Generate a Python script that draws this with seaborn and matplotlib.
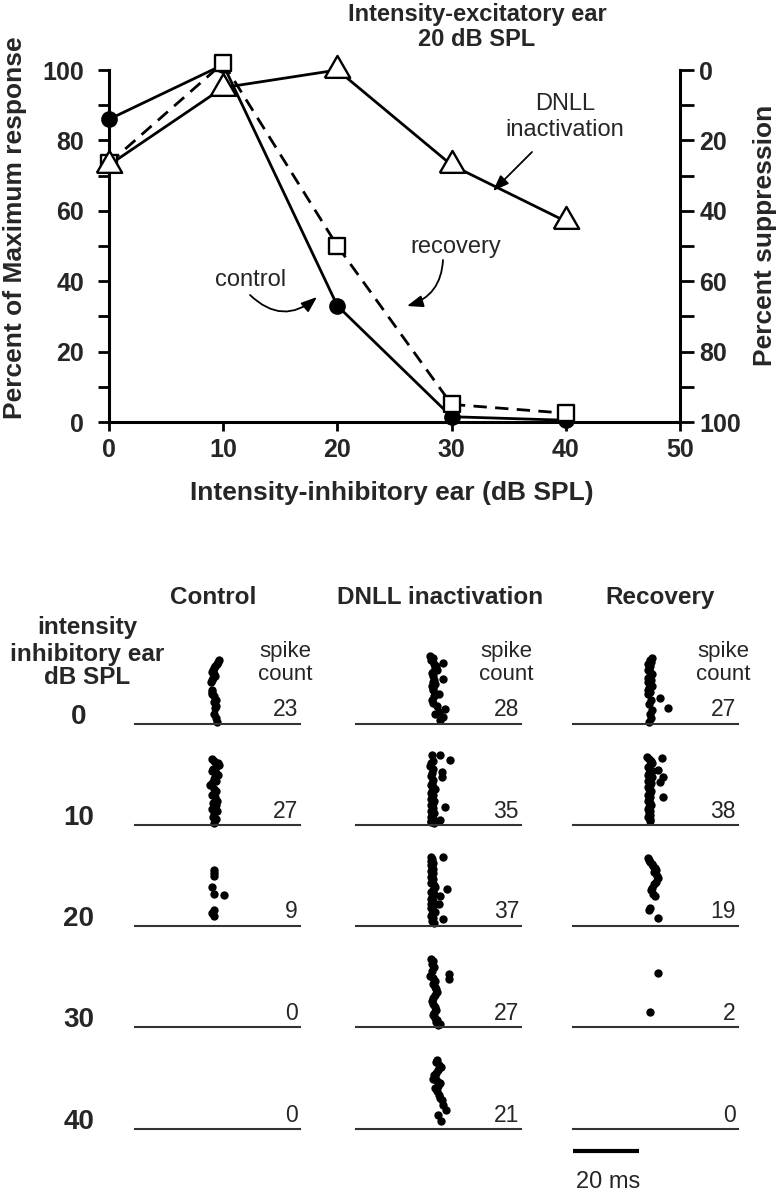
import matplotlib
matplotlib.use("Agg")
import matplotlib.pyplot as plt
import seaborn as sns

# ---------------- data: top panel ----------------
inhib_db = [0, 10, 20, 30, 40]
control_pct = [86, 101.5, 33, 1.5, 0.5]
dnll_pct = [73, 95, 100, 73, 57]
recovery_pct = [73.5, 102, 50, 5, 2.5]

x_ticks = [0, 10, 20, 30, 40, 50]
left_ticks = [0, 20, 40, 60, 80, 100]
right_ticks = [0, 20, 40, 60, 80, 100]
minor_ticks = [10, 30, 50, 70, 90]

# ---------------- data: rasters (time ms, trial) ----------------
conditions = ["Control", "DNLL inactivation", "Recovery"]
row_levels = ["0", "10", "20", "30", "40"]
control_counts = [23, 27, 9, 0, 0]
dnll_counts = [28, 35, 37, 27, 21]
recovery_counts = [27, 38, 19, 2, 0]

ctrl0_trial = [32, 31, 30, 29, 28, 27, 26, 25, 24, 23, 22, 21, 17, 16, 15, 14, 12, 11, 9, 8, 5, 3, 1]
ctrl0_time = [25.6, 25.2, 24.8, 24.2, 23.8, 23.6, 23.4, 23.8, 24.2, 23.6, 23.2, 22.9, 23.4, 23.2, 23.4,
              23.8, 24.4, 24.0, 24.6, 24.2, 24.0, 24.4, 24.8]
ctrl10_trial = [33, 32, 31, 30, 29, 28, 27, 26, 25, 24, 23, 22, 21, 20, 18, 17, 15, 14, 12, 11, 10, 8, 7,
                6, 4, 3, 1]
ctrl10_time = [23.2, 24.0, 25.3, 25.6, 24.6, 23.6, 23.2, 24.4, 25.0, 24.2, 23.8, 24.6, 23.4, 22.8, 24.0,
               24.6, 23.4, 24.2, 24.8, 23.6, 24.4, 23.4, 24.8, 24.0, 23.6, 24.6, 23.8]
ctrl20_trial = [28, 26.5, 25, 19.5, 16, 15.5, 8, 6.5, 5]
ctrl20_time = [24.0, 24.0, 24.0, 23.4, 24.0, 27.0, 24.0, 23.4, 24.0]

dnll0_trial = [34, 33, 32, 30.5, 30, 29, 28, 27, 26, 25.5, 24, 22.5, 22, 21, 20, 19, 18, 17, 15, 14, 12,
               10.5, 9, 7.5, 6, 5, 3.5, 2]
dnll0_time = [22.4, 23.4, 22.8, 26.5, 23.6, 24.2, 24.0, 24.4, 23.2, 22.9, 23.4, 26.5, 23.6, 23.2, 23.9,
              23.0, 23.4, 23.4, 25.0, 23.6, 22.9, 23.4, 24.4, 27.0, 25.0, 24.0, 26.5, 25.5]
dnll10_trial = [35, 35, 32.5, 32, 31, 29.5, 28, 26.7, 26, 24, 24.5, 22.5, 21, 20, 19, 18, 17, 16, 15, 14,
                13, 12, 11, 10, 9, 8.5, 7, 6, 5, 4, 3, 2.5, 2, 1, 1.5]
dnll10_time = [22.9, 25.4, 28.4, 23.4, 22.8, 22.4, 23.2, 26.0, 23.0, 26.0, 22.6, 23.4, 23.0, 22.6, 23.4,
               23.8, 23.0, 22.6, 23.4, 23.0, 22.8, 23.6, 23.2, 22.6, 27.0, 23.4, 22.8, 23.6, 23.0, 22.6,
               23.4, 25.4, 22.8, 23.6, 22.8]
dnll20_trial = [34.5, 34.5, 33.5, 32.5, 31.5, 30.5, 29.5, 28.5, 27.5, 26.5, 25.5, 24.5, 23.5, 22.5, 21.5,
                20.5, 19.5, 18.5, 18, 17, 16, 15, 14.5, 13.5, 12.5, 11, 11, 10, 9, 8, 7, 6, 5, 4, 3.5,
                2.5, 1.5]
dnll20_time = [22.6, 26.5, 23.0, 22.8, 23.2, 22.8, 23.0, 23.4, 22.8, 23.2, 23.0, 22.6, 23.4, 23.0, 22.8,
               23.6, 24.0, 27.5, 23.4, 22.8, 23.6, 25.5, 23.0, 22.6, 23.2, 25.0, 22.8, 23.4, 22.6, 23.2,
               23.8, 23.0, 22.6, 23.4, 26.5, 23.0, 23.6]
dnll30_trial = [34, 33, 31.5, 30, 28, 26.5, 24, 25.5, 24.5, 23, 21.5, 20, 19, 17.5, 16, 14.5, 13, 11.5,
                10, 8.5, 7, 6, 4.5, 3.5, 2.5, 1.5, 1]
dnll30_time = [22.6, 23.4, 23.0, 23.6, 23.0, 28.2, 28.2, 22.4, 23.2, 23.8, 23.4, 23.8, 24.2, 24.6, 24.0,
               23.4, 23.0, 23.4, 23.8, 24.2, 23.6, 23.2, 24.0, 24.6, 24.2, 25.6, 24.8]
dnll40_trial = [34.5, 33.5, 32, 31, 29.5, 28, 27, 26, 25, 24, 23, 21.5, 20.5, 19, 17, 15.5, 14.5, 12, 9.5,
                7, 4]
dnll40_time = [24.6, 24.2, 25.0, 25.8, 24.8, 24.2, 23.6, 23.8, 23.4, 24.6, 25.4, 24.8, 24.0, 24.4, 25.0,
               25.6, 26.0, 26.4, 27.2, 24.8, 25.8]

rec0_trial = [33, 32, 31, 30, 29, 28, 27, 26, 25, 24, 23, 22, 21, 20, 19, 18, 17, 16, 15, 12, 10, 7, 5, 3,
              1, 13, 8]
rec0_time = [23.8, 23.2, 23.6, 22.8, 23.4, 23.0, 22.6, 23.4, 24.0, 23.2, 22.8, 23.6, 22.6, 23.2, 23.8,
             23.0, 22.6, 23.4, 22.8, 23.6, 23.0, 23.8, 23.2, 23.6, 23.0, 26.4, 28.8]
rec10_trial = [34, 33, 32, 31, 30, 29, 28, 27, 26, 25, 24, 23, 22, 21, 20, 19, 18, 17, 16, 15, 14, 13, 12,
               11, 10, 9, 8, 7, 6, 5, 4, 3, 2, 33.5, 27.5, 24, 21.5, 14]
rec10_time = [22.4, 23.0, 23.6, 24.0, 23.2, 22.8, 23.4, 24.0, 23.0, 22.6, 23.8, 23.2, 22.8, 23.6, 23.2,
              22.6, 23.0, 23.6, 23.2, 22.8, 23.4, 23.0, 22.6, 23.2, 23.6, 23.0, 22.8, 23.4, 23.0, 23.4,
              22.8, 23.2, 23.4, 26.9, 25.9, 27.4, 26.4, 27.4]
rec20_trial = [34, 33, 32, 31, 30, 29, 28, 27, 25, 24, 22, 21, 19, 18, 16, 15, 9, 8, 4]
rec20_time = [22.7, 23.0, 23.4, 23.8, 24.2, 24.8, 25.2, 24.6, 25.6, 25.8, 25.0, 24.4, 24.0, 23.6, 24.2,
              24.8, 23.4, 23.0, 25.8]
rec30_trial = [27, 7.5]
rec30_time = [25.8, 23.3]

rasters = {
    ("Control", "0"): (ctrl0_time, ctrl0_trial),
    ("Control", "10"): (ctrl10_time, ctrl10_trial),
    ("Control", "20"): (ctrl20_time, ctrl20_trial),
    ("Control", "30"): ([], []),
    ("Control", "40"): ([], []),
    ("DNLL inactivation", "0"): (dnll0_time, dnll0_trial),
    ("DNLL inactivation", "10"): (dnll10_time, dnll10_trial),
    ("DNLL inactivation", "20"): (dnll20_time, dnll20_trial),
    ("DNLL inactivation", "30"): (dnll30_time, dnll30_trial),
    ("DNLL inactivation", "40"): (dnll40_time, dnll40_trial),
    ("Recovery", "0"): (rec0_time, rec0_trial),
    ("Recovery", "10"): (rec10_time, rec10_trial),
    ("Recovery", "20"): (rec20_time, rec20_trial),
    ("Recovery", "30"): (rec30_time, rec30_trial),
    ("Recovery", "40"): ([], []),
}
counts = {"Control": control_counts, "DNLL inactivation": dnll_counts, "Recovery": recovery_counts}

# ---------------- styling ----------------
sns.set_theme(style="white")
FONT = ["Liberation Sans", "DejaVu Sans"]
plt.rcParams["font.family"] = FONT

W, H = 781, 1199
fig = plt.figure(figsize=(W / 100, H / 100), dpi=100)
fig.patch.set_facecolor("white")


def axes_px(x0, y_top, x1, y_bottom):
    return fig.add_axes([x0 / W, 1 - y_bottom / H, (x1 - x0) / W, (y_bottom - y_top) / H])


def ftext(x, y, s, **kw):
    return fig.text(x / W, 1 - y / H, s, **kw)


def fp(x, y):
    return (x, H - y)


# ---------------- top panel ----------------
AX_L, AX_R, AX_T, AX_B = 109, 680, 70, 422
ax = axes_px(AX_L, AX_T, AX_R, AX_B)
ax.set_xlim(0, 50)
ax.set_ylim(0, 100)
ax.patch.set_alpha(0)

LW = 2.0
sns.lineplot(x=inhib_db, y=dnll_pct, ax=ax, color="black", lw=LW, clip_on=False, zorder=2)
sns.lineplot(x=inhib_db, y=control_pct, ax=ax, color="black", lw=LW, clip_on=False, zorder=2)
sns.lineplot(x=inhib_db, y=recovery_pct, ax=ax, color="black", lw=LW, clip_on=False, zorder=2)
ax.lines[-1].set_dashes([4.8, 3.0])

tri = [(-1, -0.58), (1, -0.58), (0, 1.15), (-1, -0.58)]
sns.scatterplot(x=inhib_db, y=control_pct, ax=ax, marker="o", s=11 ** 2, color="black",
                edgecolor="black", linewidth=1, clip_on=False, zorder=4)
sns.scatterplot(x=inhib_db, y=recovery_pct, ax=ax, marker="s", s=11.3 ** 2, color="white",
                edgecolor="black", linewidth=1.7, clip_on=False, zorder=5)
sns.scatterplot(x=inhib_db, y=dnll_pct, ax=ax, marker=tri, s=21 ** 2, color="white",
                edgecolor="black", linewidth=1.7, clip_on=False, zorder=6)

for side in ["top", "right"]:
    ax.spines[side].set_visible(False)
for side in ["left", "bottom"]:
    ax.spines[side].set_linewidth(2.2)
    ax.spines[side].set_color("black")
TICK_FS = 18
ax.set_xticks(x_ticks)
ax.set_xticklabels([str(v) for v in x_ticks], fontweight="bold", fontsize=TICK_FS)
ax.set_yticks(left_ticks)
ax.set_yticklabels([str(v) for v in left_ticks], fontweight="bold", fontsize=TICK_FS)
ax.set_yticks(minor_ticks, minor=True)
ax.tick_params(axis="y", which="both", direction="out", length=8, width=2, color="black",
               left=True, pad=10)
ax.tick_params(axis="x", which="both", direction="out", length=6.5, width=2, color="black",
               bottom=True, pad=5)
ax.set_xlabel("Intensity-inhibitory ear (dB SPL)", fontweight="bold", fontsize=19)
ax.xaxis.label.set_va("center")
ax.xaxis.set_label_coords((392 - AX_L) / (AX_R - AX_L), (AX_B - 493) / (AX_B - AX_T))
ax.set_ylabel("Percent of Maximum response", fontweight="bold", fontsize=19)
ax.yaxis.label.set_va("center")
ax.yaxis.label.set_ha("center")
ax.yaxis.set_label_coords((15 - AX_L) / (AX_R - AX_L), (AX_B - 228) / (AX_B - AX_T))
ax.grid(False)

ax2 = ax.twinx()
ax2.set_ylim(100, 0)
for side in ["top", "left", "bottom"]:
    ax2.spines[side].set_visible(False)
ax2.spines["right"].set_linewidth(2.2)
ax2.spines["right"].set_color("black")
ax2.set_yticks(right_ticks)
ax2.set_yticklabels([str(v) for v in right_ticks], fontweight="bold", fontsize=TICK_FS)
ax2.set_yticks(minor_ticks, minor=True)
ax2.tick_params(axis="y", which="both", direction="out", length=10, width=2, color="black",
                right=True, pad=4)
ax2.set_ylabel("Percent suppression", fontweight="bold", fontsize=19)
ax2.yaxis.label.set_va("center")
ax2.yaxis.label.set_ha("center")
ax2.yaxis.set_label_coords((765 - AX_L) / (AX_R - AX_L), (AX_B - 235) / (AX_B - AX_T))
ax2.grid(False)

ftext(477, 15, "Intensity-excitatory ear", ha="center", va="center", fontweight="bold", fontsize=17)
ftext(477, 39, "20 dB SPL", ha="center", va="center", fontweight="bold", fontsize=17)

ANN_FS = 17
ftext(565, 104, "DNLL", ha="center", va="center", fontsize=ANN_FS)
ftext(565, 130, "inactivation", ha="center", va="center", fontsize=ANN_FS)
ftext(456, 247, "recovery", ha="center", va="center", fontsize=ANN_FS)
ftext(251, 280, "control", ha="center", va="center", fontsize=ANN_FS)

arrow = dict(arrowstyle="-|>,head_length=0.8,head_width=0.3", color="black", lw=1.3,
             shrinkA=0, shrinkB=0, mutation_scale=12)
ax.annotate("", xy=fp(493, 191), xycoords="figure pixels", xytext=fp(532, 152),
            textcoords="figure pixels", arrowprops=arrow)
ax.annotate("", xy=fp(407, 306), xycoords="figure pixels", xytext=fp(443, 260),
            textcoords="figure pixels",
            arrowprops=dict(arrow, connectionstyle="arc3,rad=-0.35"))
ax.annotate("", xy=fp(317, 297), xycoords="figure pixels", xytext=fp(250, 295),
            textcoords="figure pixels",
            arrowprops=dict(arrow, connectionstyle="arc3,rad=0.45"))

# ---------------- bottom panel: rasters ----------------
col_x0 = [135, 356, 573]
col_head_x = [213, 440, 660]
row_base = [724, 825, 926, 1027, 1129]
RW = 165
T_MAX = 50
TR_MAX = 40
RH = 80

for ci, cond in enumerate(conditions):
    ftext(col_head_x[ci], 597, cond, ha="center", va="center", fontweight="bold", fontsize=17.5)
    ftext(col_x0[ci] + 150, 652, "spike", ha="center", va="center", fontsize=16)
    ftext(col_x0[ci] + 150, 675, "count", ha="center", va="center", fontsize=16)
    for ri, lvl in enumerate(row_levels):
        yb = row_base[ri]
        a = axes_px(col_x0[ci], yb - RH, col_x0[ci] + RW, yb)
        a.set_xlim(0, T_MAX)
        a.set_ylim(0, TR_MAX)
        a.patch.set_alpha(0)
        t, tr = rasters[(cond, lvl)]
        if len(t):
            sns.scatterplot(x=t, y=tr, ax=a, color="black", s=36, linewidth=0, clip_on=False)
        for side in ["top", "left", "right"]:
            a.spines[side].set_visible(False)
        a.spines["bottom"].set_linewidth(1.5)
        a.spines["bottom"].set_color("#333333")
        a.set_xticks([])
        a.set_yticks([])
        a.set_xlabel("")
        a.set_ylabel("")
        ftext(col_x0[ci] + RW - 2, yb - 14, str(counts[cond][ri]), ha="right", va="center",
              fontsize=16.5)
        if cond == "Recovery" and lvl == "40":
            a.plot([0, 20], [-11, -11], color="black", lw=3, clip_on=False, solid_capstyle="butt")
            ftext(608, 1182, "20 ms", ha="center", va="center", fontsize=17)

for ri, lvl in enumerate(row_levels):
    ftext(79, row_base[ri] - 7, lvl, ha="center", va="center", fontweight="bold", fontsize=20)

ftext(87, 628, "intensity", ha="center", va="center", fontweight="bold", fontsize=17.5)
ftext(87, 654, "inhibitory ear", ha="center", va="center", fontweight="bold", fontsize=17.5)
ftext(87, 678, "dB SPL", ha="center", va="center", fontweight="bold", fontsize=17.5)

fig.savefig("out.png", dpi=100, facecolor="white")
